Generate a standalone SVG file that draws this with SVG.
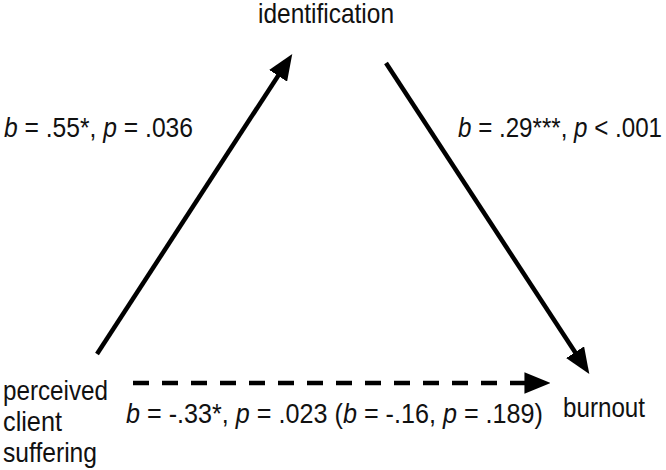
<svg xmlns="http://www.w3.org/2000/svg" width="666" height="470" viewBox="0 0 666 470">
<style>
text{font-family:"Liberation Sans",Arial,sans-serif;font-size:28px;fill:#111}
.i{font-style:italic}
.ln{stroke:#000;stroke-width:4.5;fill:none}
</style>
<defs>
<marker id="ah" markerUnits="userSpaceOnUse" markerWidth="26" markerHeight="22" viewBox="0 0 23 19" refX="12" refY="9.5" orient="auto">
<path d="M0,0 L23,9.5 L0,19 z" fill="#000"/>
</marker>
</defs>
<rect width="666" height="470" fill="#fff"/>
<g id="connectors">
<path class="ln" d="M97,354 L285.5,64.4" marker-end="url(#ah)"/>
<path class="ln" d="M386,63 L582.5,363.6" marker-end="url(#ah)"/>
<path class="ln" d="M133,383 L538,383" stroke-dasharray="16 13" marker-end="url(#ah)"/>
</g>
<g id="node-identification"><text x="258" y="23" textLength="136" lengthAdjust="spacingAndGlyphs">identification</text></g>
<g id="node-perceived">
<text x="3" y="400" textLength="105" lengthAdjust="spacingAndGlyphs">perceived</text>
<text x="3" y="431" textLength="59" lengthAdjust="spacingAndGlyphs">client</text>
<text x="3" y="462" textLength="94" lengthAdjust="spacingAndGlyphs">suffering</text>
</g>
<g id="node-burnout"><text x="563" y="417" textLength="82" lengthAdjust="spacingAndGlyphs">burnout</text></g>
<g id="labels">
<text x="4" y="137" textLength="189" lengthAdjust="spacingAndGlyphs"><tspan class="i">b</tspan> = .55*, <tspan class="i">p</tspan> = .036</text>
<text x="458" y="137" textLength="204" lengthAdjust="spacingAndGlyphs"><tspan class="i">b</tspan> = .29***, <tspan class="i">p</tspan> &lt; .001</text>
<text x="126" y="423" textLength="417" lengthAdjust="spacingAndGlyphs"><tspan class="i">b</tspan> = -.33*, <tspan class="i">p</tspan> = .023 (<tspan class="i">b</tspan> = -.16, <tspan class="i">p</tspan> = .189)</text>
</g>
</svg>
